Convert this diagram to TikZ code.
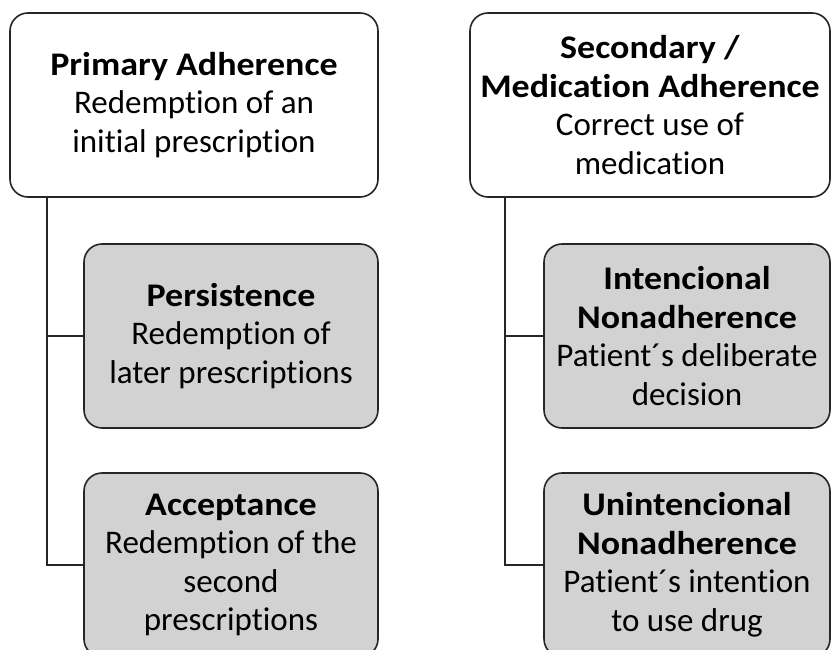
\documentclass[tikz,border=0pt]{standalone}
\usepackage{fontspec}
\setmainfont{Carlito}[Ligatures={NoCommon},BoldFeatures={FakeStretch=1.09}]
\usetikzlibrary{positioning}
\tikzset{
  mainbox/.style={draw=black!85, line width=1.6pt, rounded corners=18pt, fill=white,
    minimum width=368pt, minimum height=184pt, align=center, inner sep=0pt,
    font=\fontsize{33}{38.5}\selectfont},
  subbox/.style={mainbox, fill=gray!35, minimum width=294pt, minimum height=184pt},
  link/.style={draw=black!85, line width=1.6pt}
}
\begin{document}
\begin{tikzpicture}[x=1pt,y=-1pt]
                \clip (0,0) rectangle (831,650);
                \fill[white] (0,0) rectangle (831,650);
                % left column
                \node[mainbox] (prim) at (194,105) {\textbf{Primary Adherence}\\Redemption of an\\initial prescription};
                \node[subbox] (pers) at (231,336) {\textbf{Persistence}\\Redemption of\\later prescriptions};
                \node[subbox] (acc) at (231,565) {\textbf{Acceptance}\\Redemption of the\\second\\prescriptions};
                % right column
                \node[mainbox, minimum width=360pt] (sec) at (650,105) {\textbf{Secondary /}\\\textbf{Medication Adherence}\\Correct use of\\medication};
                \node[subbox, minimum width=286pt] (inten) at (687,336) {\textbf{Intencional}\\\textbf{Nonadherence}\\Patient´s deliberate\\decision};
                \node[subbox, minimum width=286pt] (uninten) at (687,565) {\textbf{Unintencional}\\\textbf{Nonadherence}\\Patient´s intention\\to use drug};
                % connectors
                \draw[link] ([xshift=38pt]prim.south west) coordinate (lstem) |- (acc.west);
                \draw[link] (pers.west) -- (pers.west -| lstem);
                \draw[link] ([xshift=36pt]sec.south west) coordinate (rstem) |- (uninten.west);
                \draw[link] (inten.west) -- (inten.west -| rstem);
\end{tikzpicture}
\end{document}
